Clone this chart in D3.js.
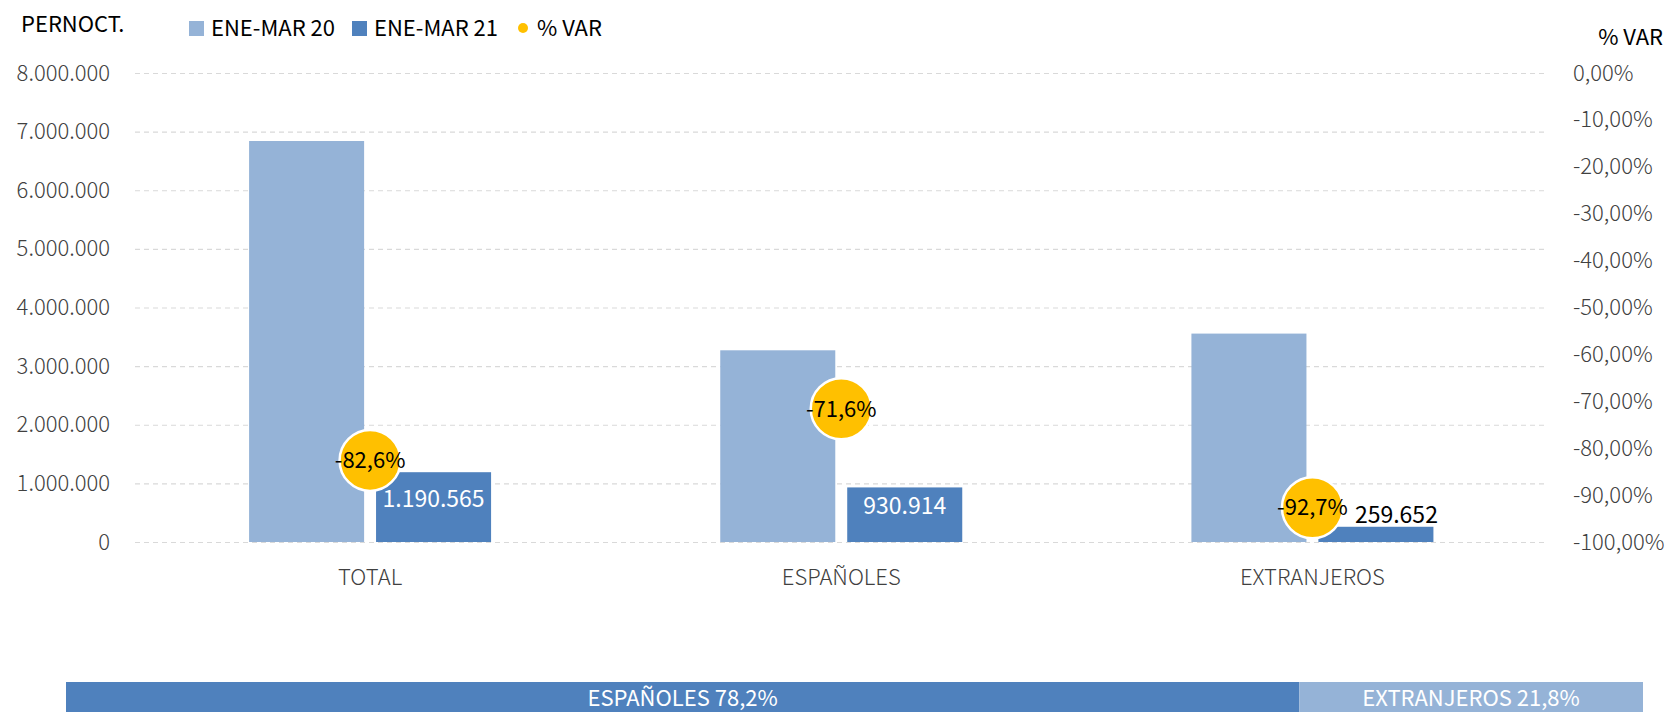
<!DOCTYPE html>
<html><head><meta charset="utf-8">
<script src="https://cdn.jsdelivr.net/npm/d3@7"></script>
<style>
body{margin:0;background:#fff}
svg{display:block}
text{font-family:"Noto Sans CJK JP","Noto Sans",sans-serif}
</style>
</head><body>
<svg id="c" width="1667" height="712"></svg>
<script>
// ---- data ----
const categories = ["TOTAL", "ESPAÑOLES", "EXTRANJEROS"];
const seriesNames = ["ENE-MAR 20", "ENE-MAR 21"];
const eneMar20 = [6840000, 3270000, 3555000];
const eneMar21 = [1190565, 930914, 259652];
const pctVar = [-82.6, -71.6, -92.7];
const leftTicks = [0, 1000000, 2000000, 3000000, 4000000, 5000000, 6000000, 7000000, 8000000];
const rightTicks = [0, -10, -20, -30, -40, -50, -60, -70, -80, -90, -100];
const shareNames = ["ESPAÑOLES", "EXTRANJEROS"];
const shareValues = [78.2, 21.8];
const leftTitle = "PERNOCT.";
const rightTitle = "% VAR";
const pctName = "% VAR";

// ---- style ----
const C_LIGHT = "#95B3D7", C_DARK = "#4F81BD", C_GOLD = "#FFC000";
const FS = 22;
const loc = d3.formatLocale({decimal: ",", thousands: ".", grouping: [3], currency: ["", "€"], minus: "-"});
const fInt = loc.format(",d");
const f2 = loc.format(",.2f");
const f1 = loc.format(",.1f");

const svg = d3.select("#c");
const plotL = 135, plotR = 1548, plotT = 73, plotB = 542;

const y = d3.scaleLinear().domain([0, 8000000]).range([plotB, plotT]);
const y2 = d3.scaleLinear().domain([-100, 0]).range([plotB, plotT]);
const x = d3.scaleBand().domain(categories).range([134.5, 1548]).padding(0);
const groupW = 242;
const x1 = d3.scaleBand().domain(seriesNames).range([0, groupW]).paddingInner(0.094);
const gx = c => x(c) + (x.bandwidth() - groupW) / 2;
const cx = c => x(c) + x.bandwidth() / 2;

// gridlines
const grid = svg.append("g").attr("transform", `translate(${plotL},0)`)
  .call(d3.axisLeft(y).tickValues(leftTicks).tickSize(-(plotR - plotL)).tickFormat(""));
grid.select(".domain").remove();
grid.selectAll("line").attr("stroke", "#D9D9D9").attr("stroke-width", 1.2).attr("stroke-dasharray", "5,4");

// left axis
const ax = svg.append("g").attr("transform", "translate(110,0)")
  .call(d3.axisLeft(y).tickValues(leftTicks).tickSize(0).tickPadding(0).tickFormat(fInt));
ax.select(".domain").remove();
ax.selectAll("text").attr("font-size", FS).attr("fill", "#404040").attr("font-weight", 300).attr("font-family", null);

// right axis
const ar = svg.append("g").attr("transform", "translate(1573,0)")
  .call(d3.axisRight(y2).tickValues(rightTicks).tickSize(0).tickPadding(0).tickFormat(d => f2(d) + "%"));
ar.select(".domain").remove();
ar.selectAll("text").attr("font-size", FS).attr("fill", "#404040").attr("font-weight", 300).attr("font-family", null);

// category axis
const ab = svg.append("g").attr("transform", `translate(0,${plotB})`)
  .call(d3.axisBottom(x).tickSize(0).tickPadding(27));
ab.select(".domain").remove();
ab.selectAll("text").attr("font-size", FS).attr("fill", "#404040").attr("font-weight", 300).attr("font-family", null);

// bars
const rows = categories.map((c, i) => ({c, v: [eneMar20[i], eneMar21[i]], p: pctVar[i]}));
const colors = [C_LIGHT, C_DARK];
const g = svg.append("g");
rows.forEach(r => {
  seriesNames.forEach((s, j) => {
    g.append("rect")
      .attr("x", gx(r.c) + x1(s)).attr("width", x1.bandwidth())
      .attr("y", y(r.v[j])).attr("height", plotB - y(r.v[j]))
      .attr("fill", colors[j]);
  });
});

// % var circles
const R = 30.5;
const cg = svg.append("g");
rows.forEach(r => {
  cg.append("circle").attr("cx", cx(r.c)).attr("cy", y2(r.p)).attr("r", R)
    .attr("fill", C_GOLD).attr("stroke", "#fff").attr("stroke-width", 2.5);
});

// labels for ENE-MAR 21
const lg = svg.append("g");
rows.forEach(r => {
  const s = seriesNames[1];
  const top = y(r.v[1]);
  const bx = gx(r.c) + x1(s) + x1.bandwidth() / 2;
  const circBottom = y2(r.p) + R;
  const t = lg.append("text").attr("font-size", 23).attr("text-anchor", "middle").text(fInt(r.v[1]));
  if (plotB - top > 40) {
    const cy = Math.max(top + 19, circBottom + 8.5);
    t.attr("x", bx).attr("y", cy).attr("dy", "0.35em").attr("fill", "#fff");
  } else {
    const w = t.node().getComputedTextLength();
    const xx = Math.max(bx, cx(r.c) + R + 12 + w / 2);
    t.attr("x", xx).attr("y", top - 4).attr("fill", "#000");
  }
});

// circle labels
rows.forEach(r => {
  svg.append("text").attr("x", cx(r.c)).attr("y", y2(r.p)).attr("dy", "0.35em")
    .attr("text-anchor", "middle").attr("font-size", FS).attr("fill", "#000")
    .text(f1(r.p) + "%");
});

// legend
svg.append("text").attr("x", 21).attr("y", 32).attr("font-size", FS).attr("fill", "#000").text(leftTitle);
svg.append("text").attr("x", 1663).attr("y", 45).attr("text-anchor", "end").attr("font-size", FS).attr("fill", "#000").text(rightTitle);
const leg = [{t: seriesNames[0], c: C_LIGHT, x: 189}, {t: seriesNames[1], c: C_DARK, x: 352}];
leg.forEach(l => {
  svg.append("rect").attr("x", l.x).attr("y", 21).attr("width", 15).attr("height", 15).attr("fill", l.c);
  svg.append("text").attr("x", l.x + 22).attr("y", 36).attr("font-size", FS).attr("fill", "#000").text(l.t);
});
svg.append("circle").attr("cx", 523).attr("cy", 28).attr("r", 5).attr("fill", C_GOLD);
svg.append("text").attr("x", 537).attr("y", 36).attr("font-size", FS).attr("fill", "#000").text(pctName);

// share bar
const xs = d3.scaleLinear().domain([0, 100]).range([66, 1643]);
let acc = 0;
const shareColors = [C_DARK, C_LIGHT];
shareValues.forEach((v, i) => {
  const x0 = xs(acc), x1b = xs(acc + v);
  svg.append("rect").attr("x", x0).attr("y", 682).attr("width", x1b - x0).attr("height", 30).attr("fill", shareColors[i]);
  svg.append("text").attr("x", (x0 + x1b) / 2).attr("y", 706).attr("text-anchor", "middle")
    .attr("font-size", 22).attr("fill", "#fff").text(shareNames[i] + " " + f1(v) + "%");
  acc += v;
});
</script>
</body></html>
